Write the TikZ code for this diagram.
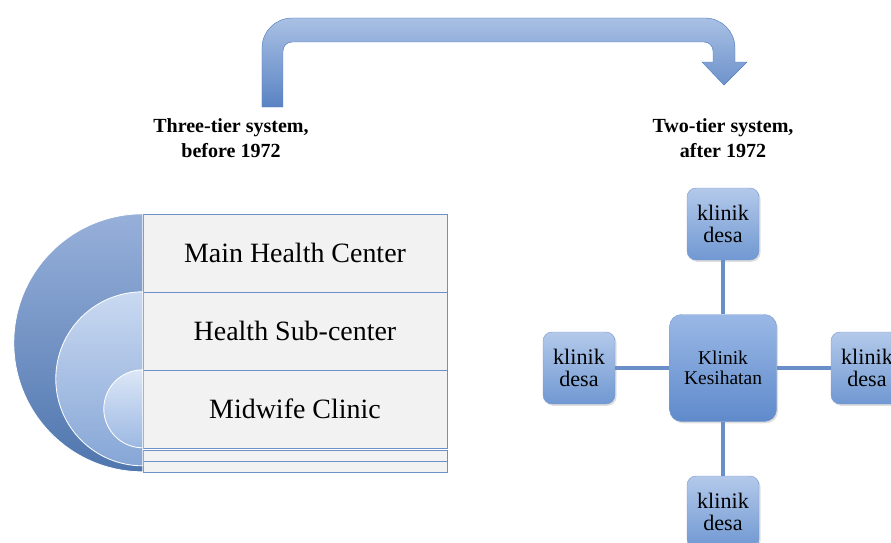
\documentclass[tikz,border=0pt]{standalone}
\usepackage{fontspec}
\setmainfont{Liberation Serif}
\usepackage{tikz}
\usetikzlibrary{shapes.geometric, arrows, positioning, shadows}
\definecolor{rowfill}{HTML}{F2F2F2}
\definecolor{rowline}{HTML}{6D90C6}
\definecolor{bigtop}{HTML}{97B0DA}
\definecolor{bigbot}{HTML}{4F76AE}
\definecolor{midtop}{HTML}{C9D9F1}
\definecolor{midbot}{HTML}{86A6D6}
\definecolor{smalltop}{HTML}{DCE7F7}
\definecolor{smallbot}{HTML}{9CB8E2}
\definecolor{desatop}{HTML}{B3C9EA}
\definecolor{desabot}{HTML}{7098D2}
\definecolor{kestop}{HTML}{9AB8E6}
\definecolor{kesbot}{HTML}{5F8ACB}
\definecolor{boxline}{HTML}{7D9DCC}
\definecolor{linkblue}{HTML}{6A8FC8}
\definecolor{arrowtop}{HTML}{A9C0E4}
\definecolor{arrowbot}{HTML}{5A83C3}
\definecolor{arrowline}{HTML}{4F7CBF}
\tikzstyle{tier} = [rectangle, minimum width=10.133cm, minimum height=2.6cm, align=center, draw=rowline, fill=rowfill, font=\fontsize{26.5}{30}\selectfont]
\tikzstyle{strip} = [rectangle, minimum width=10.133cm, minimum height=0.38cm, inner sep=0pt, draw=rowline, fill=rowfill]
\tikzstyle{desa} = [rectangle, rounded corners=0.3cm, minimum width=2.4cm, minimum height=2.4cm, inner sep=1pt, align=center, draw=boxline, top color=desatop, bottom color=desabot, drop shadow={opacity=0.25, shadow xshift=0.05cm, shadow yshift=-0.06cm}, font=\fontsize{21}{21}\selectfont]
\tikzstyle{kesihatan} = [rectangle, rounded corners=0.4cm, minimum width=3.567cm, minimum height=3.567cm, align=center, draw=boxline, top color=kestop, bottom color=kesbot, drop shadow={opacity=0.25, shadow xshift=0.05cm, shadow yshift=-0.06cm}, font=\fontsize{18.5}{19}\selectfont]
\tikzstyle{link} = [line width=3.8pt, draw=linkblue]
\tikzstyle{heading} = [align=center, font=\fontsize{19}{24}\selectfont\bfseries]
\tikzstyle{shell} = [draw=white, line width=0.8pt]
\begin{document}
\begin{tikzpicture}[node distance=4.8cm]
		\useasboundingbox (0,0) rectangle (29.7,18.067);
		\clip (0,0) rectangle (29.7,18.067);
		% bent arrow across the top
		\draw[draw=arrowline, top color=arrowtop, bottom color=arrowbot] (8.733,14.5) -- (8.733,16.467) arc (180:90:1) -- (23.5,17.467) arc (90:0:1) -- (24.5,16.0) -- (24.9,16.0) -- (24.133,15.233) -- (23.4,16.0) -- (23.767,16.0) -- (23.767,16.367) arc (0:90:0.3) -- (9.733,16.667) arc (90:180:0.3) -- (9.433,14.5) -- cycle;
		\node (before) [heading] at (7.7,13.467) {Three-tier system,\\before 1972};
		\node (after) [heading] at (24.1,13.467) {Two-tier system,\\after 1972};
		% three-tier stack
		\node (main) [tier] at (9.833,9.633) {Main Health Center};
		\node (sub) [tier, below of=main, node distance=2.6cm] {Health Sub-center};
		\node (midwife) [tier, below of=sub, node distance=2.6cm] {Midwife Clinic};
		\node (stripA) [strip, below of=midwife, node distance=1.55cm] {};
		\node (stripB) [strip, below of=stripA, node distance=0.38cm] {};
		\draw[shell, top color=bigtop, bottom color=bigbot] (main.north west) arc (90:270:4.3) -- cycle;
		\draw[shell, top color=midtop, bottom color=midbot] (sub.north west) arc (90:270:2.9) -- cycle;
		\draw[shell, top color=smalltop, bottom color=smallbot] (midwife.north west) arc (90:270:1.3) -- cycle;
		% two-tier star
		\node (kes) [kesihatan] at (24.1,5.8) {Klinik\\Kesihatan};
		\node (desaN) [desa, above of=kes] {klinik\\desa};
		\node (desaS) [desa, below of=kes] {klinik\\desa};
		\node (desaW) [desa, left of=kes] {klinik\\desa};
		\node (desaE) [desa, right of=kes] {klinik\\desa};
		\draw[link] (kes) -- (desaN);
		\draw[link] (kes) -- (desaS);
		\draw[link] (kes) -- (desaW);
		\draw[link] (kes) -- (desaE);
	\end{tikzpicture}
\end{document}
